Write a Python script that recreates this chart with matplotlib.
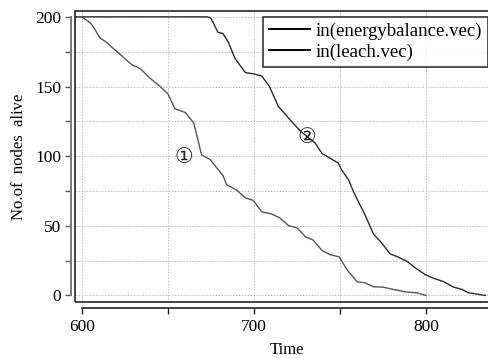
import matplotlib
matplotlib.use("Agg")
import matplotlib.pyplot as plt
from matplotlib.patches import Rectangle

# ---- data ----
eb_time = [590, 600, 673, 675, 679, 682, 685, 689, 695, 700, 704.5, 709, 714, 721, 727,
           735.5, 739.5, 749, 751, 755, 758, 764.5, 769.5, 774, 779, 783, 789, 793.5,
           799.5, 804, 810, 816, 821, 824.5, 829.5, 834.5]
eb_alive = [200, 200, 200, 199, 189, 188, 182, 170, 160, 159, 157.5, 150, 136, 126, 118,
            109.5, 102, 95, 90, 83, 74, 58, 44, 38, 30, 28, 24.5, 20, 15, 12.5, 10, 6,
            4.3, 2, 1, 0]

le_time = [600, 605, 607, 610.5, 614, 618, 629, 634, 639.5, 645, 650, 654, 660, 665,
           669.5, 674.5, 682, 684, 690, 695, 699.5, 704.5, 710, 715, 720, 725, 730,
           734.5, 739.5, 744, 749.5, 754, 760, 764.5, 769.5, 775, 781, 789, 794.5, 800]
le_alive = [200, 195.5, 192, 184.7, 182, 177.5, 165.6, 162.7, 156, 150.5, 144.6, 134,
            131.4, 123.8, 101, 97.5, 86, 79.6, 75.5, 70, 68.3, 60, 58.6, 55.7, 50.2,
            48.5, 42.1, 39.7, 32.3, 29.4, 27.7, 18.6, 9.8, 9.1, 6.2, 6, 4.3, 2.4, 1.9, 0]

series_labels = ["in(energybalance.vec)", "in(leach.vec)"]
x_ticks = [600, 700, 800]
x_minor = [650, 750]
y_ticks = [0, 50, 100, 150, 200]
y_minor = [25, 75, 125, 175]
marker_labels = ["①", "②"]
marker_pos = [(659.5, 99.5), (730.5, 114)]

W, H = 488, 359
fig = plt.figure(figsize=(W / 100, H / 100), dpi=100)
plt.rcParams['font.family'] = ['Liberation Serif', 'DejaVu Sans']

left_px, right_px, top_px, bot_px = 75, 500, 11, 302
ax = fig.add_axes([left_px / W, (H - bot_px) / H, (right_px - left_px) / W, (bot_px - top_px) / H])

ax.plot(eb_time, eb_alive, color="#2a2a2a", lw=1.0, label=series_labels[0])
ax.plot(le_time, le_alive, color="#555555", lw=1.0, label=series_labels[1])

xmin = 600 - (82 - left_px) / 1.72
xmax = 600 + (right_px - 82) / 1.72
ax.set_xlim(xmin, xmax)
ax.set_ylim(-4.7, 204.2)

ax.set_xticks(x_ticks)
ax.set_xticks(x_minor, minor=True)
ax.set_yticks(y_ticks)
ax.set_yticks(y_minor, minor=True)
ax.grid(True, which="both", color="#bbbbbb", lw=0.7, ls=(0, (1.5, 1.5)))

for s in ("top", "right"):
    ax.spines[s].set_visible(False)
ax.spines["left"].set_position(("outward", 3))
ax.spines["left"].set_bounds(0, 200)
ax.spines["left"].set_color("#777777")
ax.spines["left"].set_linewidth(1.4)
ax.spines["bottom"].set_position(("outward", 4))
ax.spines["bottom"].set_bounds(600, xmax)
ax.spines["bottom"].set_color("#222222")
ax.spines["bottom"].set_linewidth(1.2)

ax.tick_params(axis="y", which="both", direction="out", length=4, width=1.0, color="#555555",
               labelsize=12.5, pad=3)
ax.tick_params(axis="x", which="both", direction="out", length=4, width=1.0, color="#222222",
               labelsize=12.5, pad=4)

ax.add_patch(Rectangle((0, 0), 1, 1, transform=ax.transAxes, fill=False,
                       ec="#222222", lw=1.2, clip_on=False, zorder=5))

ax.set_xlabel("Time", fontsize=12, labelpad=5)
ax.set_ylabel("No.of  nodes  alive", fontsize=12, labelpad=6)

for lab, (tx, ty) in zip(marker_labels, marker_pos):
    ax.text(tx, ty, lab, fontsize=15, ha="center", va="center",
            family=['DejaVu Sans'], color="#222222")

ax_w = right_px - left_px
leg = ax.legend(loc="upper left", bbox_to_anchor=((263 - left_px) / ax_w, 0.979), borderaxespad=0,
                fontsize=13.5, frameon=True, fancybox=False, handlelength=2.2,
                handletextpad=0.3, borderpad=0.3, labelspacing=0.2)
leg.get_frame().set_edgecolor("black")
leg.get_frame().set_linewidth(1.2)
for h in leg.legend_handles:
    h.set_color("black")
    h.set_linewidth(1.4)

fig.savefig("out.png", dpi=100)
